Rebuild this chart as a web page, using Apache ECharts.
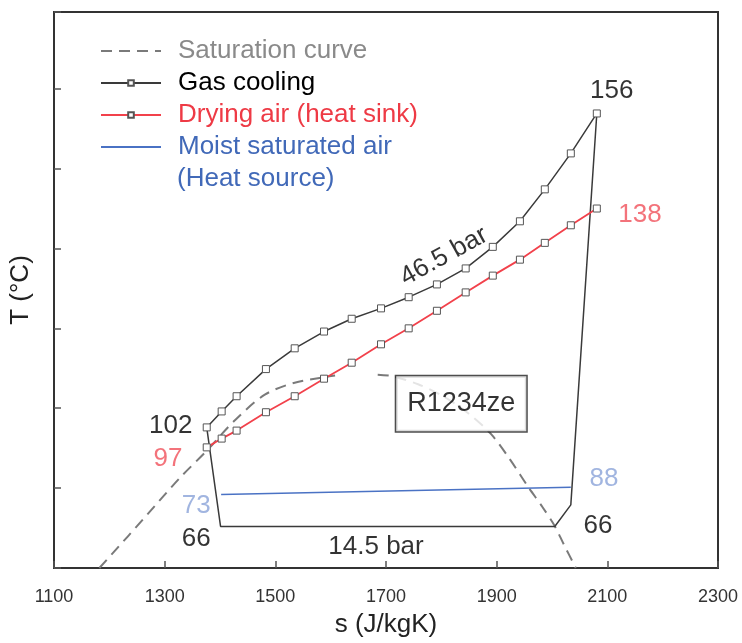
<!DOCTYPE html>
<html>
<head>
<meta charset="utf-8">
<script src="https://cdn.jsdelivr.net/npm/echarts@6/dist/echarts.min.js"></script>
<style>
  html, body { margin: 0; padding: 0; background: #fff; }
  #chart { width: 742px; height: 643px; }
</style>
</head>
<body>
<div id="chart"></div>
<script>
// x ticks (s, J/kgK)
const sTicks = [1100, 1300, 1500, 1700, 1900, 2100, 2300]

// y is schematic (no T labels on the axis), one unit = one tick step
// gas cooling of R1234ze at 46.5 bar, 156 -> 102 °C
const gasS = [1376, 1403, 1430, 1483, 1535, 1588, 1638, 1691, 1741, 1792, 1844, 1893, 1942, 1987, 2034, 2081]
const gasT = [1.76, 1.96, 2.15, 2.49, 2.75, 2.96, 3.12, 3.25, 3.39, 3.55, 3.75, 4.02, 4.34, 4.74, 5.19, 5.69]

// drying air 97 -> 138 °C
const airT = [1.51, 1.62, 1.72, 1.95, 2.15, 2.37, 2.57, 2.80, 3.00, 3.22, 3.45, 3.66, 3.86, 4.07, 4.29, 4.50]

// rest of the cycle: expansion, evaporation at 14.5 bar, compression
const cycleS = [1376, 1401, 2005, 2034, 2081]
const cycleT = [1.76, 0.52, 0.52, 0.79, 5.69]

// moist saturated air 73 -> 88 °C
const moistS = [1402, 2034]
const moistT = [0.92, 1.01]

// saturation dome (gap near the top is in the original)
const satS = [1182, 1234, 1282, 1329, 1375, 1427, 1481, 1535, 1590, 1608, null,
  1685, 1712, 1758, 1803, 1848, 1890, 1924, 1956, 1983, 2005, 2021, 2043]
const satT = [0, 0.40, 0.775, 1.14, 1.46, 1.85, 2.17, 2.32, 2.39, 2.41, null,
  2.42, 2.40, 2.30, 2.15, 1.94, 1.675, 1.36, 1.025, 0.76, 0.525, 0.30, 0]

// point labels
const noteText = ['156', '138', '102', '97', '73', '88', '66', '66', '46.5 bar', '14.5 bar', 'R1234ze']
const noteS = [2108, 2159, 1311, 1306, 1357, 2094, 1357, 2083, 1805, 1682, 1836]
const noteT = [5.975, 4.425, 1.775, 1.3625, 0.775, 1.1125, 0.3625, 0.525, 3.9, 0.2625, 2.056]

const BLACK = '#3a3a3a'
const RED = '#f2414b'
const BLUE = '#4a72c4'
const GREY = '#7a7a7a'
const FONT = '"Liberation Sans", Arial, sans-serif'

const zip = (xs, ys) => xs.map((x, i) => (x === null ? ['-', '-'] : [x, ys[i]]))

const noteColor = {
  '138': '#f0505a', '97': '#f0505a', '73': '#8aa3d8', '88': '#8aa3d8'
}

const notes = noteText.map((t, i) => {
  const item = {
    value: [noteS[i], noteT[i]],
    label: {
      show: true,
      position: 'inside',
      formatter: t,
      color: noteColor[t] || '#000',
      textBorderWidth: 0,
      fontSize: 26,
      fontFamily: FONT
    }
  }
  if (t === '46.5 bar') item.label.rotate = 29
  if (t === 'R1234ze') {
    item.label.fontSize = 27
    item.label.backgroundColor = '#fff'
    item.label.borderColor = '#222'
    item.label.borderWidth = 1.5
    item.label.padding = [15, 11, 13, 11]
  }
  return item
})

const hollowSquare = {
  symbol: 'rect',
  symbolSize: 7,
  itemStyle: { color: '#fff', borderColor: '#555', borderWidth: 1 }
}

const chart = echarts.init(document.getElementById('chart'))

chart.setOption({
  animation: false,
  backgroundColor: '#fff',
  grid: {
    left: 54, right: 24, top: 12, bottom: 74,
    show: true, borderColor: '#333', borderWidth: 2
  },
  legend: {
    orient: 'vertical',
    left: 95,
    top: 33,
    itemWidth: 60,
    itemHeight: 7,
    itemGap: 6,
    textStyle: { fontSize: 26, fontFamily: FONT, padding: [0, 0, 0, 12] },
    data: [
      { name: 'Saturation curve', itemStyle: { opacity: 0 }, textStyle: { color: '#8a8a8a' } },
      { name: 'Gas cooling', textStyle: { color: '#000' } },
      { name: 'Drying air (heat sink)', textStyle: { color: '#ee3a45' } },
      { name: 'Moist saturated air', itemStyle: { opacity: 0 }, textStyle: { color: '#4169b8' } }
    ]
  },
  graphic: [{
    type: 'text',
    left: 177,
    top: 166,
    style: { text: '(Heat source)', fill: '#4169b8', font: '26px ' + FONT }
  }],
  xAxis: {
    type: 'value',
    min: sTicks[0],
    max: sTicks[sTicks.length - 1],
    interval: 200,
    name: 's (J/kgK)',
    nameLocation: 'middle',
    nameGap: 44,
    nameTextStyle: { fontSize: 26, color: '#222', fontFamily: FONT },
    axisLine: { lineStyle: { color: '#333', width: 2 } },
    axisTick: { inside: true, length: 7, lineStyle: { color: '#555', width: 1.5 } },
    axisLabel: {
      color: '#333', fontSize: 18, margin: 20,
      fontFamily: FONT,
      formatter: v => String(v)
    },
    splitLine: { show: false }
  },
  yAxis: {
    type: 'value',
    min: 0,
    max: 6.96,
    interval: 1,
    name: 'T (°C)',
    nameLocation: 'middle',
    nameGap: 20,
    nameRotate: 90,
    nameTextStyle: { fontSize: 26, color: '#222', fontFamily: FONT },
    axisLine: { lineStyle: { color: '#333', width: 2 } },
    axisTick: { inside: true, length: 7, lineStyle: { color: '#555', width: 1.5 } },
    axisLabel: { show: false },
    splitLine: { show: false }
  },
  series: [
    {
      name: 'Saturation curve',
      type: 'line',
      data: zip(satS, satT),
      symbol: 'none',
      smooth: 0.3,
      connectNulls: false,
      lineStyle: { color: GREY, width: 2, type: [11, 7] },
      itemStyle: { color: GREY },
      z: 1
    },
    {
      name: 'cycle',
      type: 'line',
      data: zip(cycleS, cycleT),
      symbol: 'none',
      lineStyle: { color: BLACK, width: 1.5 },
      z: 2
    },
    {
      name: 'Moist saturated air',
      type: 'line',
      data: zip(moistS, moistT),
      symbol: 'none',
      lineStyle: { color: BLUE, width: 1.5 },
      itemStyle: { color: BLUE },
      z: 2
    },
    Object.assign({
      name: 'Drying air (heat sink)',
      type: 'line',
      data: zip(gasS, airT),
      lineStyle: { color: RED, width: 1.8 },
      z: 3
    }, hollowSquare),
    Object.assign({
      name: 'Gas cooling',
      type: 'line',
      data: zip(gasS, gasT),
      lineStyle: { color: BLACK, width: 1.5 },
      z: 3
    }, hollowSquare),
    {
      name: 'notes',
      type: 'scatter',
      symbolSize: 0,
      data: notes,
      silent: true,
      z: 10
    }
  ]
})
</script>
</body>
</html>
